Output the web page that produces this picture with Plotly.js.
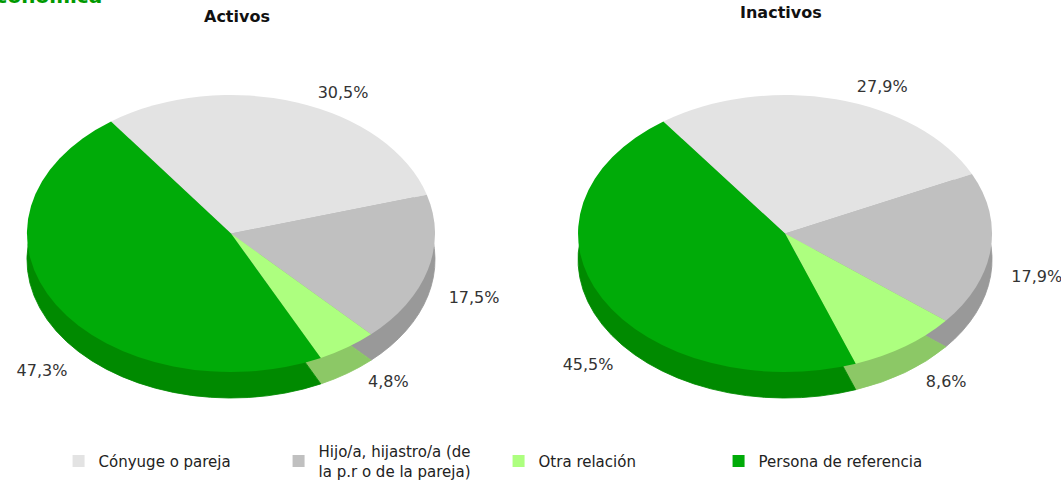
<!DOCTYPE html>
<html>
<head>
<meta charset="utf-8">
<script src="https://cdn.plot.ly/plotly-3.0.1.min.js"></script>
<style>html,body{margin:0;padding:0;background:#fff;} #chart{width:1061px;height:481px;}</style>
</head>
<body>
<div id="chart"></div>
<script>
// ---- data ----
var categories = ['Cónyuge o pareja', 'Hijo/a, hijastro/a (de<br>la p.r o de la pareja)', 'Otra relación', 'Persona de referencia'];
var activos = [30.5, 17.5, 4.8, 47.3];
var inactivos = [27.9, 17.9, 8.6, 45.5];
var panelTitles = ['Activos', 'Inactivos'];
var chartTitle = 'económica';

// ---- style ----
var topColors = ['#e3e3e3', '#c0c0c0', '#adff7f', '#00ab08'];
var sideColors = ['#b5b5b5', '#999999', '#8cc866', '#008a00'];
var FONT = '"DejaVu Sans", sans-serif';
var RY = 138.5;       // px half-height of the tilted pie top
var DEPTH = 26;       // px thickness of the pie
var ROT = -36;

function fmt(v){ return v.toFixed(1).replace('.', ',') + '%'; }

function pieTrace(vals, dom, isSide){
  return {
    type: 'pie', labels: categories, values: vals, sort: false,
    direction: 'clockwise', rotation: ROT,
    domain: dom,
    marker: {colors: isSide ? sideColors : topColors,
             line: {width: isSide ? 1 : 0, color: isSide ? sideColors : '#fff'}},
    text: isSide ? vals.map(function(){return '';}) : vals.map(fmt),
    textinfo: isSide ? 'none' : 'text',
    textposition: 'outside',
    outsidetextfont: {family: FONT, size: 16, color: '#333333'},
    hoverinfo: 'label+percent',
    showlegend: !isSide,
    meta: isSide ? 'side' : 'top'
  };
}

var domA = {x: [0.0254, 0.4100], y: [0.0840, 0.9450]};
var domI = {x: [0.5448, 0.9350], y: [0.0840, 0.9450]};

var data = [
  pieTrace(activos, domA, true), pieTrace(activos, domA, false),
  pieTrace(inactivos, domI, true), pieTrace(inactivos, domI, false)
];

var layout = {
  width: 1061, height: 481,
  margin: {l: 0, r: 0, t: 0, b: 0, autoexpand: false},
  paper_bgcolor: '#ffffff',
  font: {family: FONT, color: '#222222'},
  showlegend: true,
  legend: {orientation: 'h', x: 0.0552, xanchor: 'left', y: 1 - 435/481, yanchor: 'top',
           entrywidth: 175, entrywidthmode: 'pixels', traceorder: 'normal',
           font: {family: FONT, size: 15, color: '#222222'}},
  annotations: [
    {text: '<b>' + panelTitles[0] + '</b>', x: 237/1061, y: 1 - 17/481, xref: 'paper', yref: 'paper',
     showarrow: false, xanchor: 'center', yanchor: 'middle', font: {family: FONT, size: 16, color: '#111'}},
    {text: '<b>' + panelTitles[1] + '</b>', x: 781/1061, y: 1 - 13/481, xref: 'paper', yref: 'paper',
     showarrow: false, xanchor: 'center', yanchor: 'middle', font: {family: FONT, size: 16, color: '#111'}},
    {text: '<b>' + chartTitle + '</b>', x: 104/1061, y: 1 - 10/481, xref: 'paper', yref: 'paper',
     showarrow: false, xanchor: 'right', yanchor: 'bottom', font: {family: FONT, size: 20, color: '#009900'}}
  ]
};

function tilt(gd){
  var svgRect = gd.querySelector('.main-svg').getBoundingClientRect();
  gd.querySelectorAll('.pielayer .trace').forEach(function(tr){
    var cd = tr.__data__; if(!cd || !cd[0]) return;
    var cd0 = cd[0], cx = cd0.cx, cy = cd0.cy, k = RY / cd0.r;
    var isSide = cd0.trace.meta === 'side';
    var off = isSide ? DEPTH : 0;
    tr.querySelectorAll('path.surface').forEach(function(p){
      p.setAttribute('transform', 'translate(0,' + (cy + off) + ') scale(1,' + k + ') translate(0,' + (-cy) + ')');
    });
    tr.querySelectorAll('g.slicetext').forEach(function(g){
      var b = g.getBoundingClientRect();
      var xc = b.left + b.width/2 - svgRect.left, yc = b.top + b.height/2 - svgRect.top;
      var ny = cy + (yc - cy) * 0.7;
      if(yc > cy) ny += DEPTH + (xc < cx ? 36 : 0);
      var nx = xc + 16;
      g.setAttribute('transform', 'translate(' + (nx - xc) + ',' + (ny - yc) + ')');
    });
  });
  // vertically centre every legend entry on the tallest (two-line) entry
  var items = Array.prototype.slice.call(gd.querySelectorAll('.legend .traces'));
  var boxes = items.map(function(it){ return it.getBoundingClientRect(); });
  var tallest = 0;
  boxes.forEach(function(b, i){ if(b.height > boxes[tallest].height) tallest = i; });
  var target = boxes[tallest].top + boxes[tallest].height / 2;
  items.forEach(function(it, i){
    var dy = target - (boxes[i].top + boxes[i].height / 2);
    var t = it.getAttribute('transform') || '';
    var m = /translate\(\s*([-\d.e]+)[ ,]+([-\d.e]+)\s*\)/.exec(t);
    if(m) it.setAttribute('transform', 'translate(' + m[1] + ',' + (parseFloat(m[2]) + dy) + ')');
  });
}

Plotly.newPlot('chart', data, layout, {displayModeBar: false, staticPlot: true}).then(function(gd){ tilt(gd); });
</script>
</body>
</html>
